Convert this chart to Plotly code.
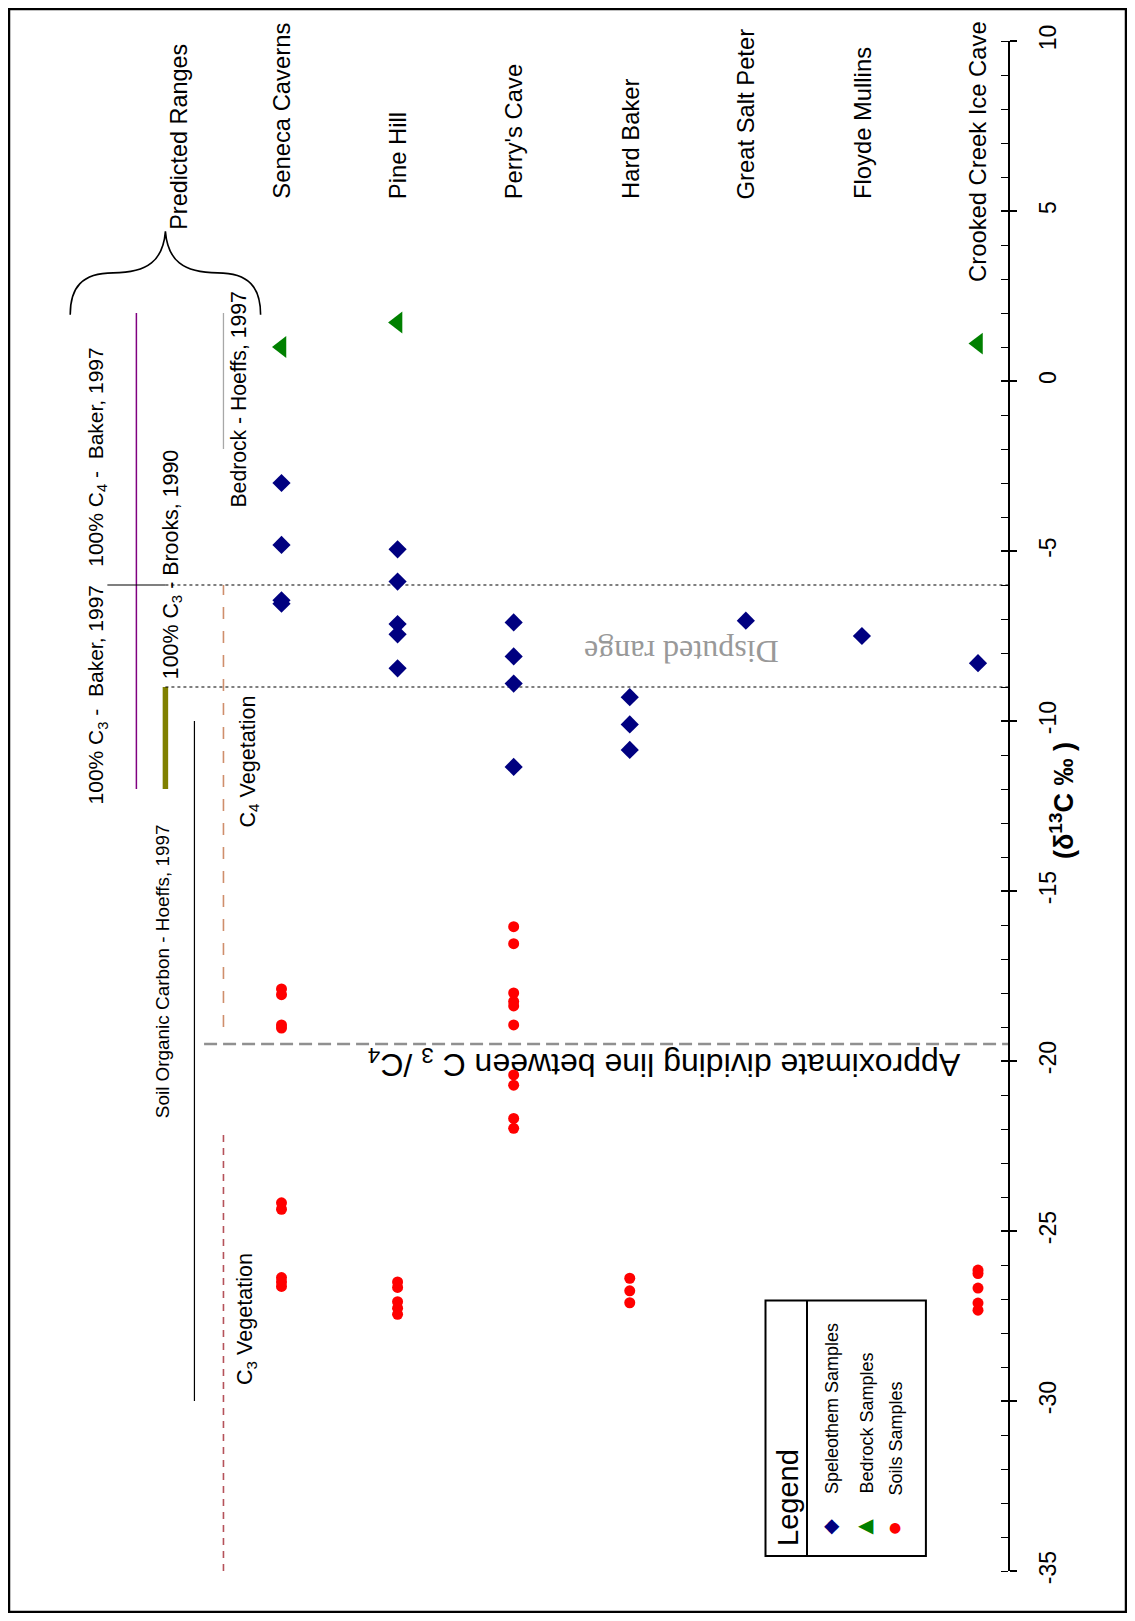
import plotly.graph_objects as go

# ---------------- data ----------------
CATEGORIES = ["Seneca Caverns", "Pine Hill", "Perry's Cave", "Hard Baker",
              "Great Salt Peter", "Floyde Mullins", "Crooked Creek Ice Cave"]

SPELEO_SITE = ["Seneca Caverns", "Seneca Caverns", "Seneca Caverns", "Seneca Caverns",
               "Pine Hill", "Pine Hill", "Pine Hill", "Pine Hill", "Pine Hill",
               "Perry's Cave", "Perry's Cave", "Perry's Cave", "Perry's Cave",
               "Hard Baker", "Hard Baker", "Hard Baker",
               "Great Salt Peter", "Floyde Mullins", "Crooked Creek Ice Cave"]
SPELEO_D13C = [-3.0, -4.82, -6.45, -6.55,
               -4.95, -5.9, -7.15, -7.45, -8.45,
               -7.1, -8.1, -8.9, -11.35,
               -9.3, -10.1, -10.85,
               -7.05, -7.5, -8.3]

BEDROCK_SITE = ["Seneca Caverns", "Pine Hill", "Crooked Creek Ice Cave"]
BEDROCK_D13C = [1.0, 1.72, 1.1]

SOIL_SITE = (["Seneca Caverns"] * 9 + ["Pine Hill"] * 5 + ["Perry's Cave"] * 10 +
             ["Hard Baker"] * 3 + ["Crooked Creek Ice Cave"] * 5)
SOIL_D13C = [-17.88, -18.05, -18.94, -19.03, -24.17, -24.36, -26.37, -26.5, -26.63,
             -26.5, -26.66, -27.08, -27.27, -27.45,
             -16.05, -16.55, -18.0, -18.25, -18.38, -18.94, -20.41, -20.71, -21.69, -21.98,
             -26.39, -26.76, -27.11,
             -26.15, -26.25, -26.68, -27.12, -27.33]

# predicted ranges (per-mil)
BAKER_RANGE = [-12, 2]          # 100% C3 .. 100% C4 - Baker, 1997
BROOKS_RANGE = [-12, -9]        # 100% C3 - Brooks, 1990
SOIL_OC_RANGE = [-30, -10]      # Soil Organic Carbon - Hoeffs, 1997
C4_VEG_RANGE = [-19, -6]
C3_VEG_RANGE = [-35, -22]
BEDROCK_RANGE = [-2, 2]         # Bedrock - Hoeffs, 1997
DISPUTED_RANGE = [-9, -6]
DIVIDING_LINE = -19.5
BAKER_SPLIT = -6

AXIS_RANGE = [-35, 10]
TICK_VALUES = [-35, -30, -25, -20, -15, -10, -5, 0, 5, 10]
TICK_LABELS = ["-35", "-30", "-25", "-20", "-15", "-10", "-5", "0", "5", "10"]

# ---------------- layout geometry ----------------
# the page has an 8px body margin; page coordinates below are converted
OFF = 8
W, H = 1119, 1605
ML, MR, MT, MB = 2, 119, 33, 42
XMIN, XMAX = -1.3388, 7.2584

FS = "Liberation Sans, Arial, sans-serif"


def px_x(p):
    return (p - OFF - ML) / (W - ML - MR)


def px_y(p):
    return (H - MB - (p - OFF)) / (H - MT - MB)


def site_x(names):
    return [CATEGORIES.index(n) + 1 for n in names]


fig = go.Figure()


def vline(x, rng, color, width, dash="solid", yaxis="y"):
    fig.add_trace(go.Scatter(x=[x, x], y=rng, mode="lines", yaxis=yaxis,
                             line=dict(color=color, width=width, dash=dash),
                             hoverinfo="skip", showlegend=False))


def hline(y, x0, x1, color, width, dash="solid", yaxis="y"):
    fig.add_trace(go.Scatter(x=[x0, x1], y=[y, y], mode="lines", yaxis=yaxis,
                             line=dict(color=color, width=width, dash=dash),
                             hoverinfo="skip", showlegend=False))


# predicted range lines
vline(-0.25, BAKER_RANGE, "#800080", 1.5)
vline(0.0, BROOKS_RANGE, "#808000", 5.5)
vline(0.25, SOIL_OC_RANGE, "black", 1.2)
vline(0.5, C4_VEG_RANGE, "#CF8E6C", 1.6, "12px,12px")
vline(0.5, C3_VEG_RANGE, "#B5525A", 1.6, "7px,6px")
vline(0.5, BEDROCK_RANGE, "#A8A8A8", 1.3)

# disputed range bounds
hline(BAKER_SPLIT, -0.5, 0.0, "black", 1.2)
for v in DISPUTED_RANGE:
    hline(v, 0.0, XMAX, "black", 1.2, "dot")

# C3/C4 dividing line
hline(DIVIDING_LINE, 0.333, XMAX, "#909090", 2.5, "13px,6px", yaxis="y2")

# samples
fig.add_trace(go.Scatter(x=site_x(SOIL_SITE), y=SOIL_D13C, mode="markers",
                         marker=dict(symbol="circle", color="#FF0000", size=11),
                         name="Soils Samples", showlegend=False))
fig.add_trace(go.Scatter(x=site_x(SPELEO_SITE), y=SPELEO_D13C, mode="markers",
                         marker=dict(symbol="diamond", color="#000080", size=14),
                         name="Speleothem Samples", showlegend=False))
fig.add_trace(go.Scatter(x=site_x(BEDROCK_SITE), y=BEDROCK_D13C, mode="markers",
                         marker=dict(symbol="triangle-left", color="#008000", size=19),
                         name="Bedrock Samples", showlegend=False))

ann = []


def text(t, x, y, size, xref="x", yref="y", angle=-90, family=FS, color="black",
         xanchor="center", yanchor="bottom"):
    ann.append(dict(text=t, x=x, y=y, xref=xref, yref=yref, textangle=angle,
                    showarrow=False, xanchor=xanchor, yanchor=yanchor,
                    font=dict(family=family, size=size, color=color)))


# site labels
for i, name in enumerate(CATEGORIES):
    start = 2.84 if name == "Crooked Creek Ice Cave" else 5.29
    text(name, i + 1, start, 23.8)

# range labels
text("Predicted Ranges", 0.114, 4.38, 23.4)
text("100% C<sub>4</sub> -\u00a0 Baker, 1997", -0.59, -5.51, 21)
text("100% C<sub>3</sub> -\u00a0 Baker, 1997", -0.59, -12.5, 21)
text("100% C<sub>3</sub> - Brooks, 1990", 0.057, -8.83, 21.4)
text("Bedrock - Hoeffs, 1997", 0.634, -3.78, 21.2)
text("Soil Organic Carbon - Hoeffs, 1997", -0.024, -21.75, 18.9)
text("C<sub>4</sub> Vegetation", 0.718, -13.2, 21.6)
text("C<sub>3</sub> Vegetation", 0.70, -29.6, 21.6)

text("Disputed range", 4.44, -7.97, 32, angle=180,
     family="Liberation Serif, Times New Roman, serif", color="#999999", yanchor="middle")
text("Approximate dividing line between C <sub>3</sub> /C<sub>4</sub>", 4.30, -20.05, 32,
     angle=180, yanchor="middle")

# axis title
text("<b>(δ<sup>13</sup>C ‰ )</b>", px_x(1062), px_y(801), 27, xref="paper", yref="paper",
     yanchor="middle")

# legend (drawn rotated like the reference)
text("Legend", px_x(787.5), px_y(1548), 29, xref="paper", yref="paper")
text("Speleothem Samples", px_x(831.5), px_y(1496), 18, xref="paper", yref="paper")
text("Bedrock Samples", px_x(866), px_y(1496), 18, xref="paper", yref="paper")
text("Soils Samples", px_x(895.6), px_y(1498), 18, xref="paper", yref="paper")
text("◆", px_x(831.5), px_y(1524.8), 20, xref="paper", yref="paper", angle=0,
     family="DejaVu Sans", color="#000080", yanchor="middle")
text("◀", px_x(866), px_y(1524.8), 20, xref="paper", yref="paper", angle=0,
     family="DejaVu Sans", color="#008000", yanchor="middle")
text("●", px_x(894.8), px_y(1527), 14, xref="paper", yref="paper", angle=0,
     family="DejaVu Sans", color="#FF0000", yanchor="middle")

shapes = [
    # outer frame
    dict(type="rect", xref="paper", yref="paper", x0=px_x(9), x1=px_x(1126),
         y0=px_y(1612), y1=px_y(9), line=dict(color="black", width=2.5)),
    # legend box and divider
    dict(type="rect", xref="paper", yref="paper", x0=px_x(765.5), x1=px_x(925.9),
         y0=px_y(1555.9), y1=px_y(1300.6), line=dict(color="black", width=2)),
    dict(type="line", xref="paper", yref="paper", x0=px_x(807), x1=px_x(807),
         y0=px_y(1555.9), y1=px_y(1300.6), line=dict(color="black", width=2)),
    # curly brace of "Predicted Ranges"
    dict(type="path", xref="x", yref="y",
         path="M -0.82,1.95 C -0.82,2.75 -0.72,3.18 -0.45,3.18 "
              "C -0.15,3.18 -0.02,3.55 0,4.4 "
              "C 0.02,3.55 0.15,3.18 0.45,3.18 "
              "C 0.72,3.18 0.82,2.75 0.82,1.95",
         line=dict(color="black", width=1.6)),
]

fig.update_layout(
    width=W, height=H,
    margin=dict(l=ML, r=MR, t=MT, b=MB, autoexpand=False),
    paper_bgcolor="white", plot_bgcolor="white",
    showlegend=False,
    xaxis=dict(range=[XMIN, XMAX], visible=False, fixedrange=True),
    yaxis=dict(range=AXIS_RANGE, side="right", showgrid=False, zeroline=False,
               showline=True, linecolor="black", linewidth=1.5,
               ticks="outside", ticklen=7, tickwidth=1.5, tickcolor="black",
               tickmode="array", tickvals=TICK_VALUES, ticktext=TICK_LABELS,
               tickangle=-90, ticklabelstandoff=12,
               tickfont=dict(family=FS, size=23, color="black"),
               minor=dict(ticks="inside", ticklen=7, tickwidth=1.2, tickcolor="black",
                          tickmode="linear", dtick=1, tick0=0, showgrid=False),
               automargin=False, fixedrange=True),
    yaxis2=dict(range=AXIS_RANGE, overlaying="y", side="right", anchor="x",
                showgrid=False, zeroline=False, showline=False,
                ticks="inside", ticklen=7, tickwidth=1.5, tickcolor="black",
                tickmode="array", tickvals=TICK_VALUES, showticklabels=False,
                automargin=False, fixedrange=True),
    annotations=ann,
    shapes=shapes,
)

fig.write_html("out.html")
